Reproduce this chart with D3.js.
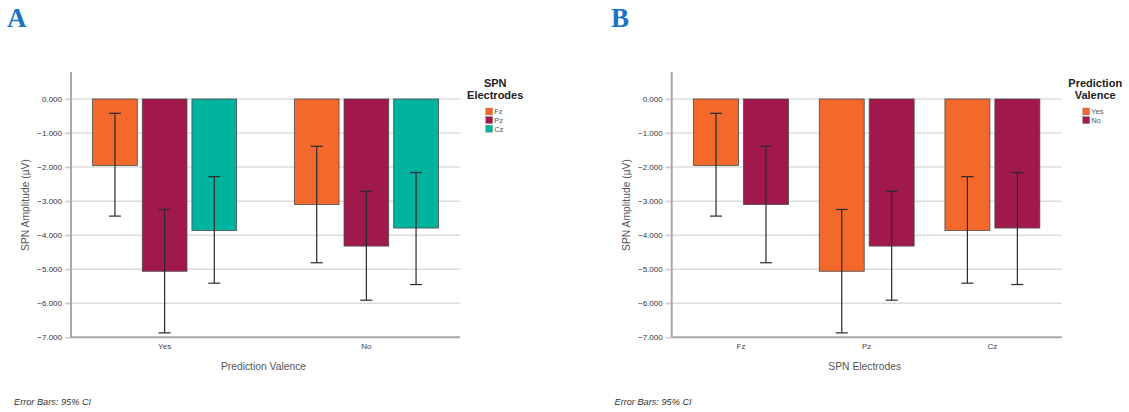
<!DOCTYPE html>
<html>
<head>
<meta charset="utf-8">
<title>SPN amplitude</title>
<script src="https://cdnjs.cloudflare.com/ajax/libs/d3/7.8.5/d3.min.js"></script>
<style>
  body { margin: 0; background: #fff; font-family: Arial, "Liberation Sans", Helvetica, sans-serif; }
  svg { display: block; }
  .tick text { fill: #333; }
</style>
</head>
<body>
<svg id="chart" width="1129" height="412"></svg>
<script>
// data (means and 95% CI bounds, µV)
const valences = ["Yes", "No"];
const electrodes = ["Fz", "Pz", "Cz"];
// one value per electrode (Fz, Pz, Cz)
const meanYes = [-1.95, -5.06, -3.86];
const meanNo  = [-3.10, -4.32, -3.79];
const ciLowYes  = [-3.44, -6.87, -5.41];
const ciHighYes = [-0.42, -3.245, -2.28];
const ciLowNo   = [-4.81, -5.91, -5.45];
const ciHighNo  = [-1.39, -2.71, -2.16];
const yTicks = [0, -1, -2, -3, -4, -5, -6, -7];

const electrodeColor = { Fz: "#f2692b", Pz: "#a1184c", Cz: "#00b39e" };
const valenceColor = { Yes: "#f2692b", No: "#a1184c" };

const rows = [];
valences.forEach((v, i) => {
  const m = i === 0 ? meanYes : meanNo;
  const lo = i === 0 ? ciLowYes : ciLowNo;
  const hi = i === 0 ? ciHighYes : ciHighNo;
  electrodes.forEach((e, j) => rows.push({ valence: v, electrode: e, mean: m[j], lo: lo[j], hi: hi[j] }));
});

const svg = d3.select("#chart");

function panel(opts) {
  const g = svg.append("g");
  const left = opts.left, right = opts.right, top = 72, bottom = 337.3;
  const y = d3.scaleLinear().domain([0, -7]).range([99, bottom]);

  // gridlines
  g.selectAll(".grid").data(yTicks.slice(0, -1)).join("line")
    .attr("x1", left - 5).attr("x2", right)
    .attr("y1", d => y(d)).attr("y2", d => y(d))
    .attr("stroke", "#dcdcdc").attr("stroke-width", 1.5);

  // y tick labels
  g.append("g")
    .attr("transform", `translate(${left - 1},0)`)
    .call(d3.axisLeft(y).tickValues(yTicks).tickFormat(d3.format(".3f")).tickSize(5).tickPadding(3))
    .call(a => a.select(".domain").remove())
    .call(a => a.selectAll("line").attr("stroke", "#cfcfcf").attr("stroke-width", 1.5))
    .call(a => a.selectAll("text").attr("font-size", "8px").attr("font-family", "Arial, 'Liberation Sans', sans-serif"));

  const x0 = d3.scaleBand().domain(opts.outer).range([left, right])
    .paddingInner(opts.pi).paddingOuter(opts.po);
  const x1 = d3.scaleBand().domain(opts.inner).range([0, x0.bandwidth()]).paddingInner(0.1);

  const grp = g.append("g").selectAll("g").data(opts.outer).join("g")
    .attr("transform", d => `translate(${x0(d)},0)`);

  grp.selectAll("rect").data(o => rows.filter(r => r[opts.outerKey] === o)).join("rect")
    .attr("x", d => x1(d[opts.innerKey]))
    .attr("width", x1.bandwidth())
    .attr("y", y(0))
    .attr("height", d => y(d.mean) - y(0))
    .attr("fill", d => opts.color[d[opts.innerKey]])
    .attr("stroke", "#4a4a4a").attr("stroke-width", 0.8);

  // error bars
  const eb = grp.selectAll("g.eb").data(o => rows.filter(r => r[opts.outerKey] === o)).join("g")
    .attr("class", "eb")
    .attr("transform", d => `translate(${x1(d[opts.innerKey]) + x1.bandwidth() / 2},0)`)
    .attr("stroke", "#2a2a2a").attr("stroke-width", 1.2);
  eb.append("line").attr("x1", 0).attr("x2", 0).attr("y1", d => y(d.hi)).attr("y2", d => y(d.lo));
  eb.append("line").attr("x1", -6).attr("x2", 6).attr("y1", d => y(d.hi)).attr("y2", d => y(d.hi));
  eb.append("line").attr("x1", -6).attr("x2", 6).attr("y1", d => y(d.lo)).attr("y2", d => y(d.lo));

  // axes lines
  g.append("path")
    .attr("d", `M${left},${top}V${bottom}H${right}`)
    .attr("fill", "none").attr("stroke", "#a8a8a8").attr("stroke-width", 2);

  // category labels
  g.selectAll(".cat").data(opts.outer).join("text")
    .attr("x", d => x0(d) + x0.bandwidth() / 2).attr("y", 349)
    .attr("text-anchor", "middle").attr("font-size", "8px").attr("fill", "#444")
    .text(d => d);

  // axis titles
  g.append("text")
    .attr("x", (left + right) / 2 - 2).attr("y", 370)
    .attr("text-anchor", "middle").attr("font-size", "10.3px").attr("fill", "#555")
    .text(opts.xTitle);
  g.append("text")
    .attr("transform", `translate(${left - 42},205) rotate(-90)`)
    .attr("text-anchor", "middle").attr("font-size", "10.3px").attr("fill", "#555")
    .text("SPN Amplitude (µV)");

  // legend
  const lg = g.append("g").attr("transform", `translate(${opts.legendX},0)`);
  lg.selectAll(".lt").data(opts.legendTitle).join("text")
    .attr("x", opts.legendTitleX).attr("y", (d, i) => 87 + i * 12)
    .attr("text-anchor", "middle").attr("font-size", "11px").attr("font-weight", "bold").attr("fill", "#222")
    .text(d => d);
  const item = lg.selectAll(".li").data(opts.inner).join("g")
    .attr("transform", (d, i) => `translate(0,${108 + i * 8.6})`);
  item.append("rect").attr("width", 7).attr("height", 7)
    .attr("fill", d => opts.color[d]).attr("stroke", "#888").attr("stroke-width", 0.4);
  item.append("text").attr("x", 8.5).attr("y", 6.3)
    .attr("font-size", "7.5px").attr("fill", "#555").text(d => d);

  // footnote
  g.append("text")
    .attr("x", opts.noteX).attr("y", 405)
    .attr("font-size", "9.2px").attr("font-style", "italic").attr("fill", "#333")
    .text("Error Bars: 95% CI");

  // panel letter
  svg.append("text")
    .attr("x", opts.letterX).attr("y", 27)
    .attr("font-family", "'Liberation Serif', 'Times New Roman', serif")
    .attr("font-size", "27px").attr("font-weight", "bold").attr("fill", "#1a72c0")
    .text(opts.letter);
}

panel({
  letter: "A", letterX: 7, left: 71, right: 460,
  outer: valences, outerKey: "valence", inner: electrodes, innerKey: "electrode",
  color: electrodeColor, pi: 0.286, po: 0.107,
  xTitle: "Prediction Valence",
  legendTitle: ["SPN", "Electrodes"], legendX: 485.7, legendTitleX: 9.5,
  noteX: 14
});

panel({
  letter: "B", letterX: 611, left: 671.7, right: 1061.7,
  outer: electrodes, outerKey: "electrode", inner: valences, innerKey: "valence",
  color: valenceColor, pi: 0.245, po: 0.174,
  xTitle: "SPN Electrodes",
  legendTitle: ["Prediction", "Valence"], legendX: 1082.7, legendTitleX: 12.5,
  noteX: 614.5
});
</script>
</body>
</html>
